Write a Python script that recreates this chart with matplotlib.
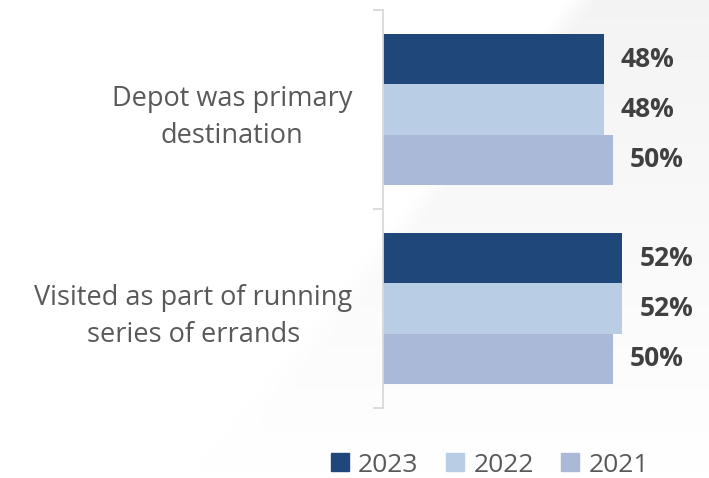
import numpy as np
import matplotlib.pyplot as plt
from matplotlib.patches import Patch

categories = ["Depot was primary\ndestination", "Visited as part of running\nseries of errands"]
years = ["2023", "2022", "2021"]
values_2023 = [48, 52]
values_2022 = [48, 52]
values_2021 = [50, 50]
colors = ["#1f4779", "#b9cde5", "#aab9d7"]

series = [values_2023, values_2022, values_2021]

plt.rcParams['font.family'] = ['Open Sans', 'DejaVu Sans']

fig = plt.figure(figsize=(7.09, 4.78), dpi=100)

# faint diagonal backdrop on the right
bg = fig.add_axes([0, 0, 1, 1], zorder=-10)
W, H = 709, 478
xx, yy = np.meshgrid(np.arange(W), np.arange(H))
edge = 567 - 0.79 * yy
mask = np.clip((xx - edge) / 30.0, 0, 1)
fade = np.clip(1 - yy / 470.0, 0, 1)
shade = 1 - 0.045 * mask * fade
img = np.dstack([shade, shade, shade])
bg.imshow(img, aspect='auto', extent=[0, 1, 0, 1])
bg.axis('off')

ax = fig.add_axes([383 / 709, 1 - 408 / 478, 322 / 709, 398 / 478])
ax.patch.set_alpha(0)

h = 0.2513
y = np.arange(len(categories))
for i, (vals, yr, c) in enumerate(zip(series, years, colors)):
    pos = y + (i - 1) * h
    ax.barh(pos, vals, height=h, color=c, label=yr)
    for p, v in zip(pos, vals):
        ax.text(v + 3.7, p, f"{v}%", va='center', ha='left',
                fontsize=19, fontweight='bold', color='#404040')

ax.set_xlim(0, 70)
ax.set_ylim(1.5, -0.5)
ax.set_yticks(y)
ax.set_yticklabels(categories, fontsize=19.5, color='#595959', ha='right',
                   multialignment='center', linespacing=1.45)
ax.tick_params(axis='y', which='major', length=0, pad=22)
ax.set_yticks([-0.5, 0.5, 1.5], minor=True)
ax.tick_params(axis='y', which='minor', length=7, color='#d9d9d9', width=1.3)
ax.set_xticks([])
for s in ['top', 'right', 'bottom']:
    ax.spines[s].set_visible(False)
ax.spines['left'].set_color('#d9d9d9')
ax.spines['left'].set_linewidth(1.3)

handles = [Patch(color=c, label=yr) for c, yr in zip(colors, years)]
fig.legend(handles=handles, loc='center', bbox_to_anchor=(490 / 709, 1 - 465 / 478),
           ncol=3, frameon=False, fontsize=19, handlelength=0.68, handleheight=0.68,
           handletextpad=0.35, columnspacing=1.05, labelcolor='#595959',
           borderpad=0, borderaxespad=0)

fig.savefig("out.png", dpi=100)
